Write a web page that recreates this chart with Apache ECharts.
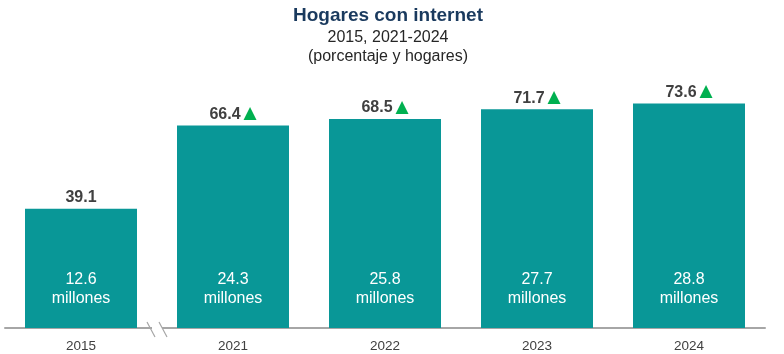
<!DOCTYPE html>
<html>
<head>
<meta charset="utf-8">
<script src="https://cdn.jsdelivr.net/npm/echarts@6/dist/echarts.min.js"></script>
<style>html,body{margin:0;padding:0;background:#fff}#c{width:784px;height:354px}</style>
</head>
<body>
<div id="c"></div>
<script>
const categories = ['2015', '2021', '2022', '2023', '2024'];
const percentValues = [39.1, 66.4, 68.5, 71.7, 73.6];
const householdMillions = [12.6, 24.3, 25.8, 27.7, 28.8];
const showArrow = [false, true, true, true, true];

const chart = echarts.init(document.getElementById('c'));
const font = 'Arial, "Liberation Sans", sans-serif';
const option = {
  backgroundColor: '#fff',
  animation: false,
  title: {
    text: 'Hogares con internet',
    subtext: '2015, 2021-2024\n(porcentaje y hogares)',
    left: 383, textAlign: 'center', top: 0, itemGap: 1,
    textStyle: {fontFamily: font, fontSize: 19, fontWeight: 'bold', color: '#1a3a5e', lineHeight: 22},
    subtextStyle: {fontFamily: font, fontSize: 16, color: '#262626', lineHeight: 19}
  },
  grid: {left: 5, right: 19, top: 84, bottom: 26, containLabel: false},
  xAxis: {
    type: 'category', data: categories,
    axisLine: {lineStyle: {color: '#a6a6a6', width: 2}},
    axisTick: {show: false},
    axisLabel: {fontFamily: font, fontSize: 13.5, color: '#404040', margin: 11}
  },
  yAxis: {type: 'value', min: 0, max: 80, show: false, splitLine: {show: false}},
  series: [
    {
      type: 'bar', data: percentValues, barWidth: 112, barGap: '-100%',
      itemStyle: {color: '#099797'},
      label: {
        show: true, position: 'top', distance: 2,
        formatter: p => showArrow[p.dataIndex] ? '{v|' + p.value + '}{a|▲}' : '{v|' + p.value + '}',
        rich: {
          v: {fontFamily: font, fontSize: 16, fontWeight: 'bold', color: '#404040', lineHeight: 18},
          a: {fontFamily: '"DejaVu Sans", sans-serif', fontSize: 17, color: '#00b050', lineHeight: 18, padding: [0, 0, 1, 3]}
        }
      }
    },
    {
      type: 'bar', data: percentValues, barWidth: 112, barGap: '-100%',
      itemStyle: {color: 'transparent'}, silent: true,
      label: {
        show: true, position: 'insideBottom', distance: 20,
        formatter: p => householdMillions[p.dataIndex] + '\nmillones',
        fontFamily: font, fontSize: 16, color: '#ffffff', lineHeight: 19, align: 'center'
      }
    }
  ]
};
chart.setOption(option);

// axis break marks between 2015 and 2021
const p0 = chart.convertToPixel({xAxisIndex: 0}, 0);
const p1 = chart.convertToPixel({xAxisIndex: 0}, 1);
const bx = (p0 + p1) / 2;
const by = chart.convertToPixel({yAxisIndex: 0}, 0);
chart.setOption({
  graphic: [
    {type: 'rect', shape: {x: bx - 5, y: by - 2, width: 10, height: 4}, style: {fill: '#fff'}, z: 100},
    {type: 'line', shape: {x1: bx - 10, y1: by - 6, x2: bx - 2, y2: by + 9}, style: {stroke: '#a6a6a6', lineWidth: 1.2}, z: 101},
    {type: 'line', shape: {x1: bx + 2, y1: by - 6, x2: bx + 10, y2: by + 9}, style: {stroke: '#a6a6a6', lineWidth: 1.2}, z: 101}
  ]
});
</script>
</body>
</html>
